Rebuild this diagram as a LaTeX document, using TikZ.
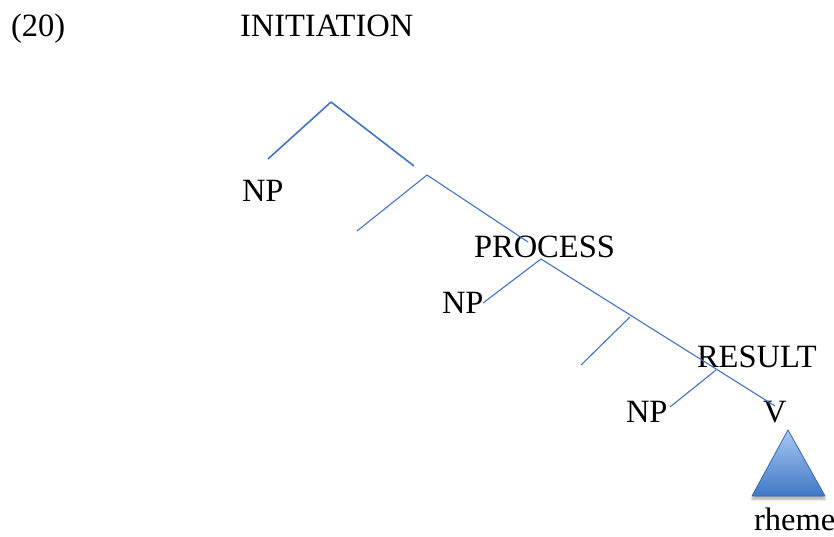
\documentclass[tikz,border=0pt]{standalone}
\usepackage{fontspec}
\setmainfont{Liberation Serif}
\usetikzlibrary{shadows.blur}
\definecolor{branch}{HTML}{4472C4}
\definecolor{triTop}{HTML}{A8C8F2}
\definecolor{triBot}{HTML}{3F78C6}
\definecolor{triEdge}{HTML}{3A6AB0}
\begin{document}
\begin{tikzpicture}[x=1pt,y=-1pt,
  lbl/.style={anchor=base west,inner sep=0pt,outer sep=0pt,
              font=\fontsize{32.5}{38}\selectfont,text=black},
  thick branch/.style={draw=branch,line width=1.6pt},
  thin branch/.style={draw=branch,line width=1.1pt}]
\useasboundingbox (0,0) rectangle (834,536);

% labels
\node[lbl] (num)     at (11,36)  {(20)};
\node[lbl] (init)    at (240,36) {INITIATION};
\node[lbl] (np1)     at (242,201) {NP};
\node[lbl] (proc)    at (474,257) {PROCESS};
\node[lbl] (np2)     at (442,313) {NP};
\node[lbl] (res)     at (697,367) {RESULT};
\node[lbl] (np3)     at (626,422) {NP};
\node[lbl] (v)       at (763,422) {V};
\node[lbl] (rheme)   at (754,530) {rheme};

% branching points and branch ends
\coordinate (top)   at (331,102);
\coordinate (topL)  at (268,159);
\coordinate (topR)  at (414,166);
\coordinate (mid)   at (427,175);
\coordinate (midL)  at (357,231);
\coordinate (midR)  at (528,242);
\coordinate (pr)    at (541,259);
\coordinate (prL)   at (483,303);
\coordinate (vEnd)  at (775,406);
\coordinate (low)   at (630,317);
\coordinate (lowL)  at (581,365);
\coordinate (re)    at (716,370);
\coordinate (reL)   at (670,407);

% branches
\draw[thick branch] (top) -- (topL);
\draw[thick branch] (top) -- (topR);
\draw[thin branch] (mid) -- (midL);
\draw[thin branch] (mid) -- (midR);
\draw[thin branch] (pr) -- (prL);
\draw[thin branch] (pr) -- (vEnd);
\draw[thin branch] (low) -- (lowL);
\draw[thin branch] (re) -- (reL);

% triangle under V
\coordinate (triA) at (788,430);
\coordinate (triB) at (752,496);
\coordinate (triC) at (825,496);
\path[top color=triTop,bottom color=triBot,draw=triEdge,line width=0.8pt,
      line join=round,
      blur shadow={shadow xshift=0pt,shadow yshift=-3pt,shadow opacity=35,
                   shadow blur steps=6,shadow blur radius=2.5pt}]
  (triA) -- (triB) -- (triC) -- cycle;
\end{tikzpicture}
\end{document}
